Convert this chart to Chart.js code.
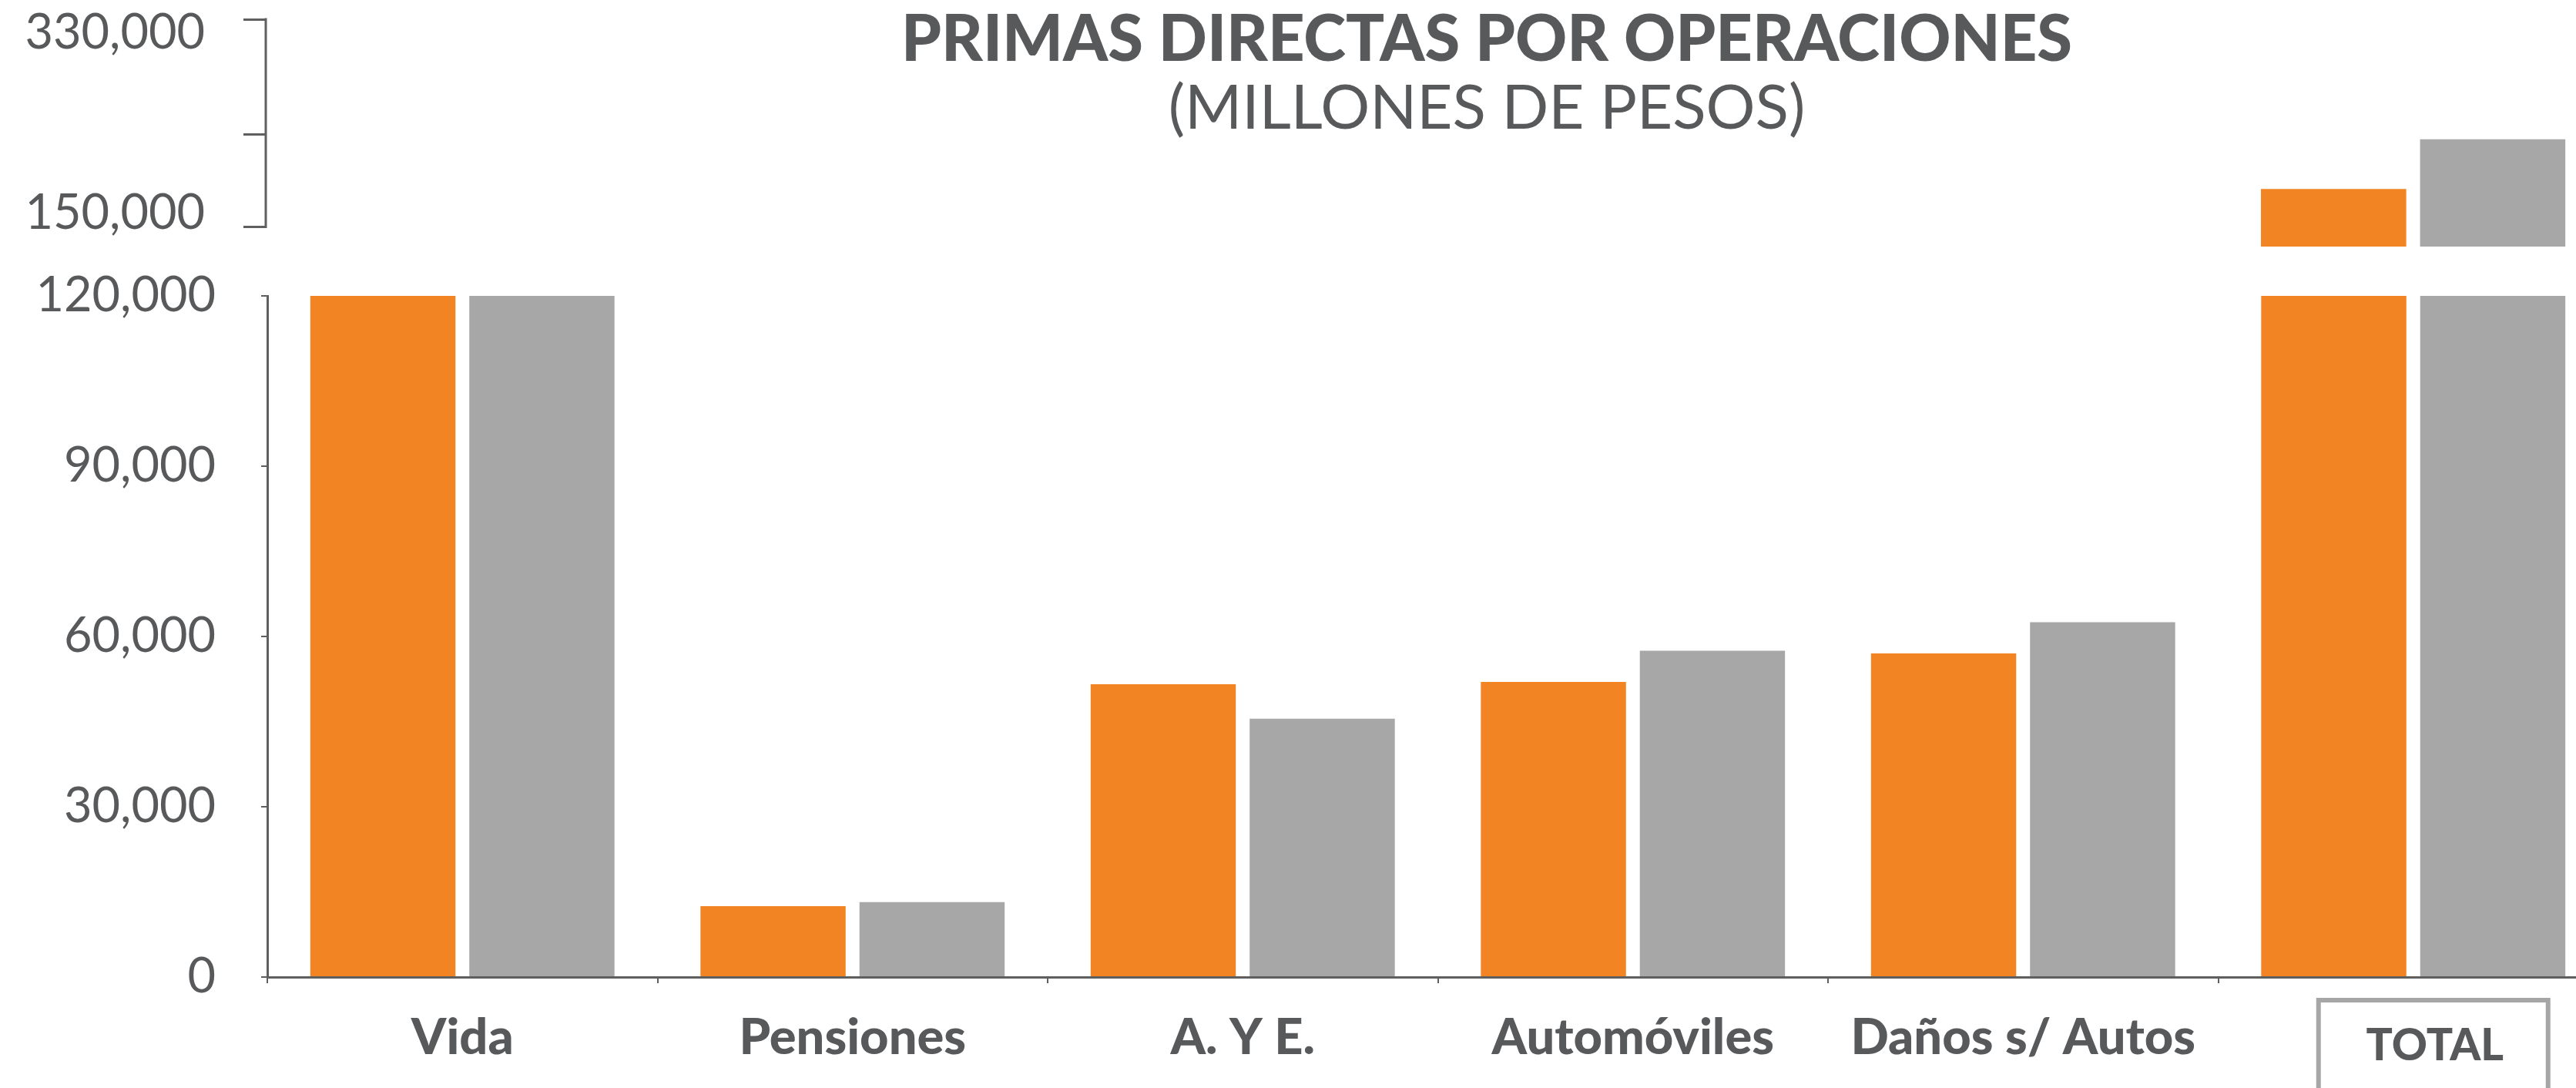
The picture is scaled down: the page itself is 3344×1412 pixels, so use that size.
<!DOCTYPE html>
<html>
<head>
<meta charset="utf-8">
<script src="https://cdn.jsdelivr.net/npm/chart.js@4.4.0/dist/chart.umd.min.js"></script>
<style>
  html, body { margin: 0; padding: 0; background: #fff; overflow: hidden; }
  body { width: 3344px; height: 1412px; position: relative; }
  .caja { position: absolute; left: 0; top: 0; width: 3400px; }
</style>
</head>
<body>
<div class="caja" style="height:1412px"><canvas id="chartInferior"></canvas></div>
<div class="caja" style="height:330px"><canvas id="chartSuperior"></canvas></div>
<script>
// Datos
const categorias = ['Vida', 'Pensiones', 'A. Y E.', 'Automóviles', 'Daños s/ Autos', 'TOTAL'];
const serieNaranja = [126000, 12500, 51600, 52000, 57000, 183000];
const serieGris = [130000, 13200, 45500, 57500, 62500, 226000];
const ticksInferior = [0, 30000, 60000, 90000, 120000];
const ticksSuperior = [150000, 230000, 330000];
const etiquetasSuperior = ['150,000', '', '330,000'];
const titulo = 'PRIMAS DIRECTAS POR OPERACIONES';
const subtitulo = '(MILLONES DE PESOS)';

const NARANJA = '#F38423';
const GRIS = '#A7A7A7';
const TEXTO = '#58595B';
const EJE = '#5F5F5F';

function datasets() {
  return [{
    data: serieNaranja,
    backgroundColor: NARANJA,
    categoryPercentage: 0.815,
    barPercentage: 0.913
  }, {
    data: serieGris,
    backgroundColor: GRIS,
    categoryPercentage: 0.815,
    barPercentage: 0.913
  }];
}

// Recuadro de TOTAL
const cajaTotal = {
  id: 'cajaTotal',
  afterDraw(chart) {
    const ctx = chart.ctx;
    const xc = chart.scales.x.getPixelForValue(categorias.length - 1);
    ctx.save();
    ctx.strokeStyle = '#A6A6A6';
    ctx.lineWidth = 6;
    ctx.strokeRect(xc - 123, 1298, 298, 200);
    ctx.fillStyle = TEXTO;
    ctx.font = '900 57px Lato';
    ctx.textAlign = 'center';
    ctx.textBaseline = 'alphabetic';
    ctx.fillText(categorias[categorias.length - 1], xc + 28, 1376);
    ctx.restore();
  }
};

// Grafica inferior (0 - 120,000)
const ctxInf = document.getElementById('chartInferior').getContext('2d');
const chartInf = new Chart(ctxInf, {
  type: 'bar',
  data: { labels: categorias, datasets: datasets() },
  options: {
    responsive: true,
    maintainAspectRatio: false,
    animation: false,
    layout: { padding: { top: 384, right: 14, left: 0, bottom: 0 } },
    plugins: { legend: { display: false }, tooltip: { enabled: false } },
    scales: {
      x: {
        grid: { drawOnChartArea: false, tickLength: 8, color: EJE, lineWidth: 2 },
        border: { color: EJE, width: 3 },
        ticks: {
          color: TEXTO,
          font: { family: 'Lato', weight: 900, size: 65 },
          padding: 32,
          maxRotation: 0,
          autoSkip: false,
          callback: (v, i) => i === categorias.length - 1 ? '' : categorias[i]
        },
        afterFit: (s) => { s.height = 144; s.paddingLeft = 0; s.paddingRight = 0; }
      },
      y: {
        min: 0,
        max: 120000,
        afterBuildTicks: (s) => { s.ticks = ticksInferior.map(v => ({ value: v })); },
        grid: { drawOnChartArea: false, tickLength: 8, color: EJE, lineWidth: 2 },
        border: { color: EJE, width: 3 },
        ticks: {
          color: TEXTO,
          font: { family: 'Lato', weight: 400, size: 63 },
          padding: 59,
          callback: (v) => v.toLocaleString('en-US')
        },
        afterFit: (s) => { s.width = 347; s.paddingTop = 0; s.paddingBottom = 0; }
      }
    }
  },
  plugins: [cajaTotal]
});

// Linea del eje superior y titulos
const ejeSuperior = {
  id: 'ejeSuperior',
  afterDraw(chart) {
    const ctx = chart.ctx;
    const y = chart.scales.y;
    const x0 = chart.chartArea.left;
    ctx.save();
    ctx.strokeStyle = EJE;
    ctx.lineWidth = 3;
    ctx.beginPath();
    ctx.moveTo(x0, y.getPixelForValue(ticksSuperior[ticksSuperior.length - 1]) - 1.5);
    ctx.lineTo(x0, y.getPixelForValue(ticksSuperior[0]) + 1.5);
    ctx.stroke();

    ctx.fillStyle = TEXTO;
    ctx.textAlign = 'center';
    ctx.textBaseline = 'alphabetic';
    ctx.font = '900 83px Lato';
    ctx.fillText(titulo, 1930, 79);
    ctx.font = '400 80px Lato';
    ctx.fillText(subtitulo, 1930, 167);
    ctx.restore();
  }
};

// Grafica superior (eje cortado, 150,000 - 330,000)
const ctxSup = document.getElementById('chartSuperior').getContext('2d');
const chartSup = new Chart(ctxSup, {
  type: 'bar',
  data: { labels: categorias, datasets: datasets() },
  options: {
    responsive: true,
    maintainAspectRatio: false,
    animation: false,
    layout: { padding: { top: 25, right: 14, left: 0, bottom: 10 } },
    plugins: { legend: { display: false }, tooltip: { enabled: false } },
    scales: {
      x: { display: false },
      y: {
        min: 133000,
        max: 330000,
        afterBuildTicks: (s) => { s.ticks = ticksSuperior.map(v => ({ value: v })); },
        grid: { drawOnChartArea: false, tickLength: 29, color: EJE, lineWidth: 3 },
        border: { display: false },
        ticks: {
          color: TEXTO,
          font: { family: 'Lato', weight: 400, size: 63, lineHeight: 0.5625 },
          padding: 50,
          callback: (v, i) => {
            const t = etiquetasSuperior[i];
            if (i === ticksSuperior.length - 1) return ['', t];
            if (i === 0) return [t, ''];
            return t;
          }
        },
        afterFit: (s) => { s.width = 345; s.paddingTop = 0; s.paddingBottom = 0; }
      }
    }
  },
  plugins: [ejeSuperior]
});
</script>
</body>
</html>
